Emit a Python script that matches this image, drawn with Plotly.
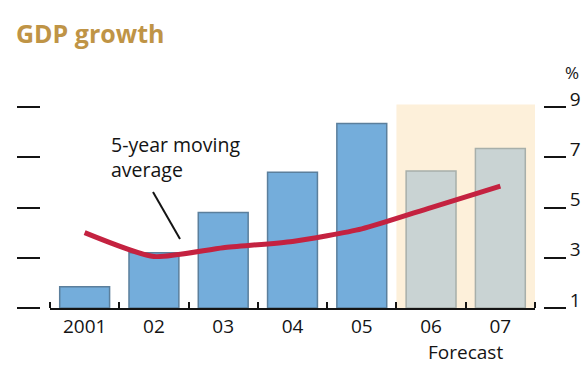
import plotly.graph_objects as go

years = ["2001", "02", "03", "04", "05", "06", "07"]
gdp = [1.85, 3.2, 4.8, 6.4, 8.35, 6.45, 7.35]
moving_avg = [4.0, 3.05, 3.4, 3.65, 4.15, 5.0, 5.85]
forecast_flags = [False, False, False, False, False, True, True]
y_ticks = [1, 3, 5, 7, 9]

x = list(range(len(years)))
fill = ["#c9d3d3" if f else "#74addb" for f in forecast_flags]
edge = ["#a7afaa" if f else "#5b7f9c" for f in forecast_flags]

YMIN, YMAX = 1, 9.4
L, R, T, B = 50, 49, 97, 57
W, H = 584, 365
PH = H - T - B
TXT = "#141414"


def py(p):
    """pixel row -> paper y (paper is relative to the plot area)"""
    return (H - B - p) / PH


fig = go.Figure()
fig.add_trace(go.Bar(x=x, y=[v - YMIN for v in gdp], base=YMIN, width=0.72,
                     marker=dict(color=fill, line=dict(color=edge, width=1.5)),
                     hoverinfo="skip"))
fig.add_trace(go.Scatter(x=x, y=moving_avg, mode="lines",
                         line=dict(color="#c42240", width=5, shape="spline", smoothing=0.6),
                         hoverinfo="skip"))
fig.add_trace(go.Scatter(x=[x[0]], y=[YMIN], yaxis="y2", mode="markers",
                         marker=dict(opacity=0), hoverinfo="skip"))

first_fc = forecast_flags.index(True)
fig.add_shape(type="rect", xref="x", yref="y", x0=first_fc - 0.5, x1=len(years) - 0.5,
              y0=YMIN, y1=9.1, fillcolor="#fdf0da", line_width=0, layer="below")

dom_l = L / W
dom_r = 1 - R / W
fig.update_layout(
    width=W, height=H, margin=dict(l=0, r=0, t=T, b=B),
    paper_bgcolor="white", plot_bgcolor="white", showlegend=False,
    font=dict(family="Open Sans", color=TXT),
    xaxis=dict(domain=[dom_l, dom_r], range=[-0.5, len(years) - 0.5],
               tickvals=x, ticktext=years, ticks="", showgrid=False, zeroline=False,
               showline=True, linecolor=TXT, linewidth=2,
               tickfont=dict(size=19, color=TXT),
               minor=dict(tickmode="array", tickvals=[i - 0.5 for i in range(len(years) + 1)],
                          ticks="inside", ticklen=6, tickwidth=2, tickcolor=TXT, showgrid=False)),
    yaxis=dict(range=[YMIN, YMAX], tickvals=y_ticks, showticklabels=False, ticks="outside",
               ticklen=23, tickwidth=2, tickcolor=TXT, showgrid=False, zeroline=False,
               showline=False, anchor="free", position=40 / W),
    yaxis2=dict(range=[YMIN, YMAX], tickvals=y_ticks, ticktext=[str(v) for v in y_ticks],
                overlaying="y", side="right", anchor="free", position=543 / W,
                ticks="outside", ticklen=22, tickwidth=2, tickcolor=TXT,
                showgrid=False, zeroline=False, showline=False, ticklabelshift=-8,
                ticklabelstandoff=0,
                tickfont=dict(size=19, color=TXT)),
)

fig.add_annotation(text="<b>GDP growth</b>", xref="paper", yref="paper", x=14 / W, y=py(33),
                   xanchor="left", yanchor="middle", showarrow=False,
                   font=dict(size=25, color="#bf9446", family="Open Sans"))
fig.add_annotation(text="%", xref="paper", yref="paper", x=572 / W, y=py(72),
                   xanchor="center", yanchor="middle", showarrow=False,
                   font=dict(size=17, color=TXT))
fig.add_annotation(text="Forecast", xref="x", yref="paper", x=(first_fc + len(years) - 1) / 2,
                   y=py(352), xanchor="center", yanchor="middle", showarrow=False,
                   font=dict(size=19, color=TXT))
fig.add_annotation(text="5-year moving<br>average", xref="paper", yref="paper",
                   x=109 / W, y=py(157), xanchor="left", yanchor="middle", align="left",
                   showarrow=False, font=dict(size=19.5, color=TXT))
fig.add_shape(type="line", xref="paper", yref="paper", x0=153 / W, y0=py(192),
              x1=180 / W, y1=py(239), line=dict(color=TXT, width=2))

fig.write_html("out.html")
